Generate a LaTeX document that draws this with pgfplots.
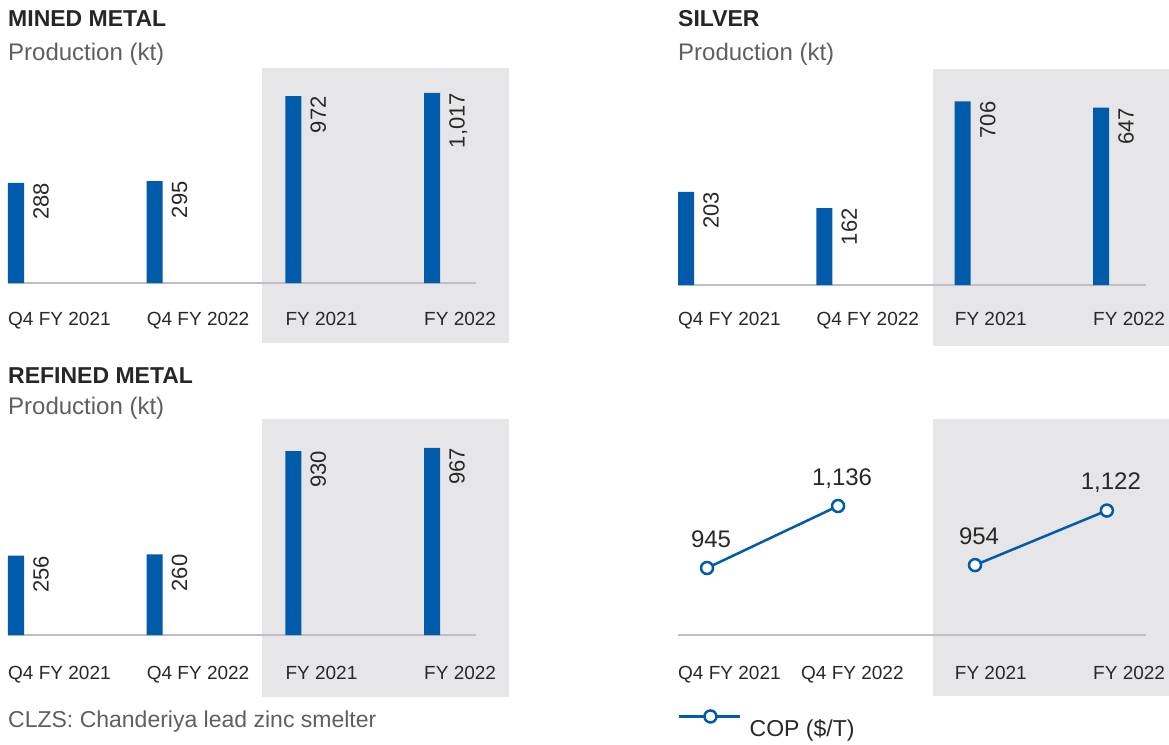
\documentclass[border=0pt]{standalone}
\usepackage{fontspec}
\setmainfont{Liberation Sans}
\usepackage{pgfplots}
\pgfplotsset{compat=1.18}

\definecolor{barblue}{RGB}{0,91,170}
\definecolor{panelgrey}{RGB}{230,230,232}
\definecolor{baseline}{RGB}{190,190,195}
\definecolor{titletext}{RGB}{38,38,38}
\definecolor{subtext}{RGB}{95,95,95}
\definecolor{ticktext}{RGB}{40,40,40}

\newcommand{\fs}[1]{\fontsize{#1}{#1}\selectfont}

\pgfplotsset{
  panel/.style={
    scale only axis, width=468pt, height=200pt,
    xmin=0, xmax=3.38,
    axis x line=bottom, axis y line=none,
    x axis line style={-, draw=baseline, line width=2.5pt},
    ytick=\empty, xtick={0,1,2,3},
    major tick length=0pt,
    xticklabels={Q4 FY 2021, Q4 FY 2022, FY 2021, FY 2022},
    xticklabel style={anchor=base west, inner sep=0pt, font=\fs{19}, text=ticktext},
    clip=false,
  },
  barpanel/.style={
    panel, log origin y=infty,
    ybar, bar width=16pt, bar shift=8pt,
    nodes near coords, point meta=explicit symbolic,
    every node near coord/.append style={xshift=17pt, rotate=90, anchor=north east,
      inner sep=0pt, font=\fs{22}, text=ticktext},
  },
  copline/.style={barblue, line width=2.5pt, mark=*, mark size=6pt,
    mark options={fill=white, draw=barblue, line width=2.5pt}},
}

\begin{document}
\begin{tikzpicture}
\useasboundingbox (0pt,0pt) rectangle (1169pt,-744pt);

% shaded full-year areas
\fill[panelgrey] (262pt,-68pt) rectangle (509pt,-343pt);
\fill[panelgrey] (933pt,-69pt) rectangle (1169pt,-346pt);
\fill[panelgrey] (262pt,-419pt) rectangle (509pt,-697pt);
\fill[panelgrey] (933pt,-419pt) rectangle (1169pt,-696pt);

% titles
\node[anchor=base west, inner sep=0pt, font=\bfseries\fs{23}, text=titletext] at (8pt,-27pt) {MINED METAL};
\node[anchor=base west, inner sep=0pt, font=\fs{24}, text=subtext] at (8pt,-60pt) {Production (kt)};
\node[anchor=base west, inner sep=0pt, font=\bfseries\fs{23}, text=titletext] at (678pt,-27pt) {SILVER};
\node[anchor=base west, inner sep=0pt, font=\fs{24}, text=subtext] at (678pt,-60pt) {Production (kt)};
\node[anchor=base west, inner sep=0pt, font=\bfseries\fs{23}, text=titletext] at (8pt,-383pt) {REFINED METAL};
\node[anchor=base west, inner sep=0pt, font=\fs{24}, text=subtext] at (8pt,-414pt) {Production (kt)};
\node[anchor=base west, inner sep=0pt, font=\fs{23}, text=subtext] at (8pt,-727pt) {CLZS: Chanderiya lead zinc smelter};

% mined metal
\begin{axis}[ymode=log, barpanel, at={(8pt,-283pt)}, anchor=south west,
  xmax=3.375, ymin=70.7, ymax=1168, xticklabel style={yshift=-42pt}]
\addplot[fill=barblue, draw=none] coordinates {(0,288) [288] (1,295) [295] (2,972) [972] (3,1017) [1{,}017]};
\end{axis}

% silver
\begin{axis}[ymode=log, barpanel, at={(678pt,-285pt)}, anchor=south west,
  xmax=3.383, ymin=56.1, ymax=885, xticklabel style={yshift=-40pt}]
\addplot[fill=barblue, draw=none] coordinates {(0,203) [203] (1,162) [162] (2,706) [706] (3,647) [647]};
\end{axis}

% refined metal
\begin{axis}[ymode=log, barpanel, at={(8pt,-635pt)}, anchor=south west,
  xmax=3.375, ymin=96.3, ymax=1133, xticklabel style={yshift=-44pt}]
\addplot[fill=barblue, draw=none] coordinates {(0,256) [256] (1,260) [260] (2,930) [930] (3,967) [967]};
\end{axis}

% cost of production
\begin{axis}[panel, at={(678pt,-635pt)}, anchor=south west,
  xmax=3.383, ymin=738.6, ymax=1354.7,
  xtick={0,0.889,2,3}, xticklabel style={yshift=-44pt},
  nodes near coords, point meta=explicit symbolic,
  every node near coord/.append style={anchor=base, xshift=4pt, yshift=21pt,
    inner sep=0pt, font=\fs{24}, text=ticktext},
  legend style={at={(0,-0.37)}, anchor=north west, draw=none, fill=none,
    inner sep=0pt, column sep=8pt, nodes={inner sep=0pt}, font=\fs{23}, text=ticktext},
  legend image code/.code={
    \draw[barblue, line width=2.5pt] (0pt,12pt) -- (61pt,12pt);
    \draw[barblue, line width=2.5pt, fill=white] (31pt,12pt) circle (6pt);},
]
\addplot[copline] coordinates {(0.21,945) [945] (1.157,1136) [1{,}136]};
\addlegendentry{COP (\$/T)}
\addplot[copline, forget plot] coordinates {(2.147,954) [954] (3.10,1122) [1{,}122]};
\end{axis}
\end{tikzpicture}
\end{document}
